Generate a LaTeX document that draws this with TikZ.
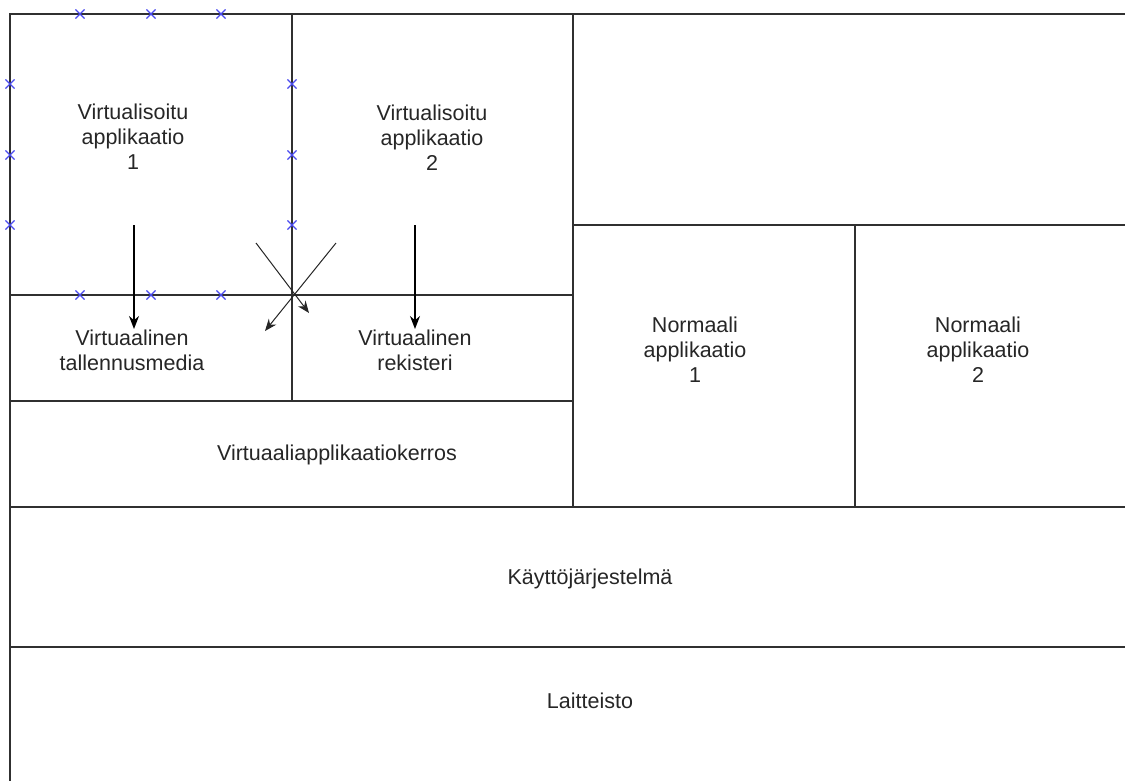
\documentclass[tikz,border=0pt]{standalone}
\usepackage{fontspec}
\setmainfont{Liberation Sans}
\usetikzlibrary{arrows.meta,shapes.misc}
\definecolor{linegray}{HTML}{303030}
\definecolor{markblue}{HTML}{4A4AF0}
\begin{document}
\begin{tikzpicture}[x=1pt,y=-1pt,
  box/.style={draw=linegray,line width=1.5pt},
  lbl/.style={font=\fontsize{21.5}{25}\selectfont,align=center,text=black!85,inner sep=0pt},
  arr/.style={-{Stealth[length=13pt,width=10pt]},line width=1.5pt,draw=black},
  xarr/.style={-{Stealth[length=12pt,width=9.5pt]},line width=1pt,draw=black!85},
  mk/.style={cross out,draw=markblue,line width=1.1pt,minimum size=8pt,inner sep=0pt}]
\useasboundingbox (0,0) rectangle (1125,780);
\fill[white] (0,0) rectangle (1125,780);
\begin{scope}
\clip (0,0) rectangle (1125,780);
% boxes
\draw[box] (10,14) rectangle (292,295);
\draw[box] (292,14) rectangle (573,295);
\draw[box] (573,14) rectangle (1140,225);
\draw[box] (10,295) rectangle (292,401);
\draw[box] (292,295) rectangle (573,401);
\draw[box] (10,401) rectangle (573,507);
\draw[box] (573,225) rectangle (855,507);
\draw[box] (855,225) rectangle (1140,507);
\draw[box] (10,507) rectangle (1140,647);
\draw[box] (10,647) rectangle (1140,800);
\end{scope}
% labels
\node[lbl] (va1) at (133,137) {Virtualisoitu\\applikaatio\\1};
\node[lbl] (va2) at (432,138) {Virtualisoitu\\applikaatio\\2};
\node[lbl] (vt) at (132,350) {Virtuaalinen\\tallennusmedia};
\node[lbl] (vr) at (415,350) {Virtuaalinen\\rekisteri};
\node[lbl] (na1) at (695,350) {Normaali\\applikaatio\\1};
\node[lbl] (na2) at (978,350) {Normaali\\applikaatio\\2};
\node[lbl] (vak) at (337,455) {Virtuaaliapplikaatiokerros};
\node[lbl] (kj) at (590,579) {Käyttöjärjestelmä};
\node[lbl] (lt) at (590,701) {Laitteisto};
% connectors
\coordinate (a1s) at (134,225);
\coordinate (a1e) at (134,329);
\coordinate (a2s) at (415,225);
\coordinate (a2e) at (415,329);
\coordinate (x1s) at (256,243);
\coordinate (x1e) at (309,313);
\coordinate (x2s) at (336,243);
\coordinate (x2e) at (265,331);
\draw[arr] (a1s) -- (a1e);
\draw[arr] (a2s) -- (a2e);
\draw[xarr] (x1s) -- (x1e);
\draw[xarr] (x2s) -- (x2e);
% selection markers
\foreach \i/\x/\y in {1/80/14,2/151/14,3/221/14,4/10/84,5/10/155,6/10/225,7/292/84,8/292/155,9/292/225,10/80/295,11/151/295,12/221/295}
  \node[mk] (m\i) at (\x,\y) {};
\end{tikzpicture}
\end{document}
